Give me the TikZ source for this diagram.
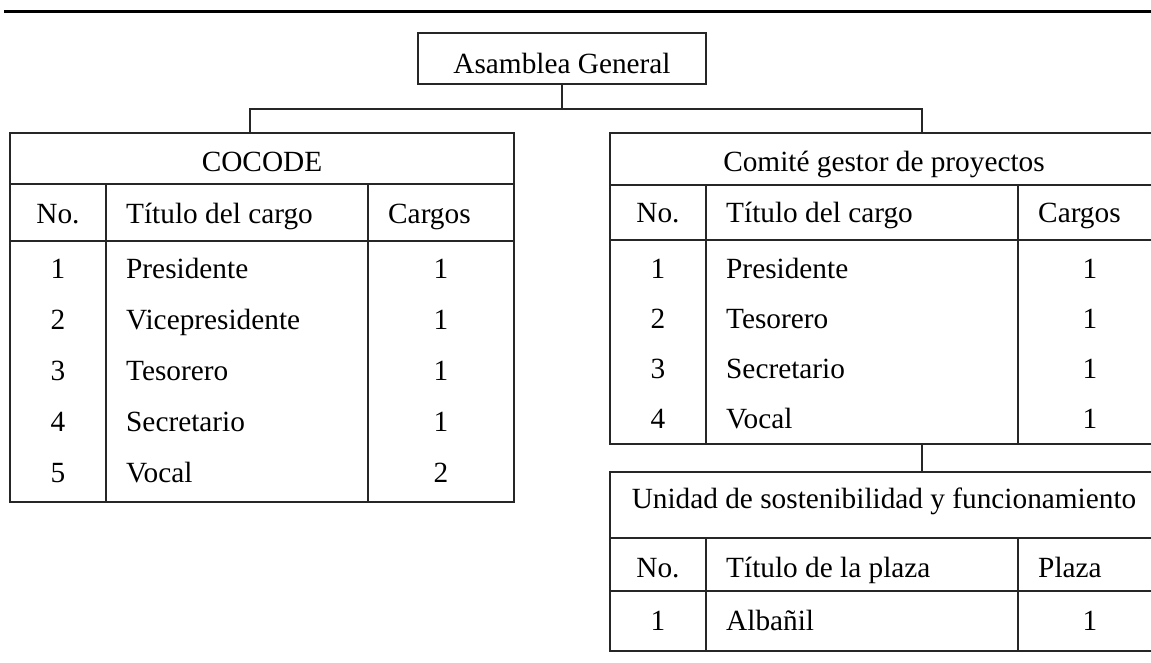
\documentclass[tikz,border=0pt]{standalone}
\usepackage{fontspec}
\setmainfont{Liberation Serif}
\usetikzlibrary{positioning}

\begin{document}
\begin{tikzpicture}[
    x=1pt, y=-1pt,
    font=\fontsize{29.3}{35}\selectfont,
    line/.style={draw=black!85, line width=1.4pt},
    box/.style={line, inner sep=0pt, outer sep=0pt, minimum width=288pt, minimum height=51pt, text height=29pt, text depth=0pt},
    frame/.style={line, inner sep=0pt, outer sep=0pt, anchor=north west},
    mid/.style={inner sep=0pt, anchor=base},
    lcell/.style={inner sep=0pt, anchor=base west}
  ]
    \useasboundingbox (0,0) rectangle (1151,662);
    \draw[line width=3pt] (4,11) -- (1156,11);

    \node[box] (asamblea) at (562,58.5) {Asamblea General};
    \node[frame, minimum width=504pt, minimum height=369pt] (cocode) at (10,133) {};
    \node[frame, minimum width=548pt, minimum height=311pt] (comite) at (610,133) {};
    \node[frame, minimum width=548pt, minimum height=179pt, below=28pt of comite] (unidad) {};

    \coordinate (bar) at (562,109);
    \draw[line] (asamblea) -- (bar);
    \draw[line] ([xshift=240pt]cocode.north west) |- (bar) -| ([xshift=312pt]comite.north west);
    \draw[line] ([xshift=312pt]comite.south west) -- ([xshift=312pt]unidad.north west);

    \draw[line] (10,184) -- (514,184) (10,241) -- (514,241) (106,184) -- (106,502) (368,184) -- (368,502);
    \draw[line] (610,185) -- (1158,185) (610,240) -- (1158,240) (706,185) -- (706,444) (1018,185) -- (1018,444);
    \draw[line] (610,538) -- (1158,538) (610,591) -- (1158,591) (706,538) -- (706,651) (1018,538) -- (1018,651);

    \node[mid] (cocodetitle) at (262,171) {COCODE};
    \node[mid] (cocodeno) at (58,223) {No.};
    \node[lcell] (cocodecargo) at (126,223) {Título del cargo};
    \node[lcell] (cocodecant) at (388,223) {Cargos};
    \node[mid] (ca1) at (58,278) {1};
    \node[lcell] (cb1) at (126,278) {Presidente};
    \node[mid] (cc1) at (441,278) {1};
    \node[mid] (ca2) at (58,329) {2};
    \node[lcell] (cb2) at (126,329) {Vicepresidente};
    \node[mid] (cc2) at (441,329) {1};
    \node[mid] (ca3) at (58,380) {3};
    \node[lcell] (cb3) at (126,380) {Tesorero};
    \node[mid] (cc3) at (441,380) {1};
    \node[mid] (ca4) at (58,431) {4};
    \node[lcell] (cb4) at (126,431) {Secretario};
    \node[mid] (cc4) at (441,431) {1};
    \node[mid] (ca5) at (58,482) {5};
    \node[lcell] (cb5) at (126,482) {Vocal};
    \node[mid] (cc5) at (441,482) {2};

    \node[mid] (comitetitle) at (884,171) {Comité gestor de proyectos};
    \node[mid] (comiteno) at (658,222) {No.};
    \node[lcell] (comitecargo) at (726,222) {Título del cargo};
    \node[lcell] (comitecant) at (1038,222) {Cargos};
    \node[mid] (ga1) at (658,278) {1};
    \node[lcell] (gb1) at (726,278) {Presidente};
    \node[mid] (gc1) at (1090,278) {1};
    \node[mid] (ga2) at (658,328) {2};
    \node[lcell] (gb2) at (726,328) {Tesorero};
    \node[mid] (gc2) at (1090,328) {1};
    \node[mid] (ga3) at (658,378) {3};
    \node[lcell] (gb3) at (726,378) {Secretario};
    \node[mid] (gc3) at (1090,378) {1};
    \node[mid] (ga4) at (658,428) {4};
    \node[lcell] (gb4) at (726,428) {Vocal};
    \node[mid] (gc4) at (1090,428) {1};

    \node[mid] (unidadtitle) at (884,508) {Unidad de sostenibilidad y funcionamiento};
    \node[mid] (unidadno) at (658,577) {No.};
    \node[lcell] (unidadplaza) at (726,577) {Título de la plaza};
    \node[lcell] (unidadcant) at (1038,577) {Plaza};
    \node[mid] (ua1) at (658,630) {1};
    \node[lcell] (ub1) at (726,630) {Albañil};
    \node[mid] (uc1) at (1090,630) {1};
  \end{tikzpicture}
\end{document}
